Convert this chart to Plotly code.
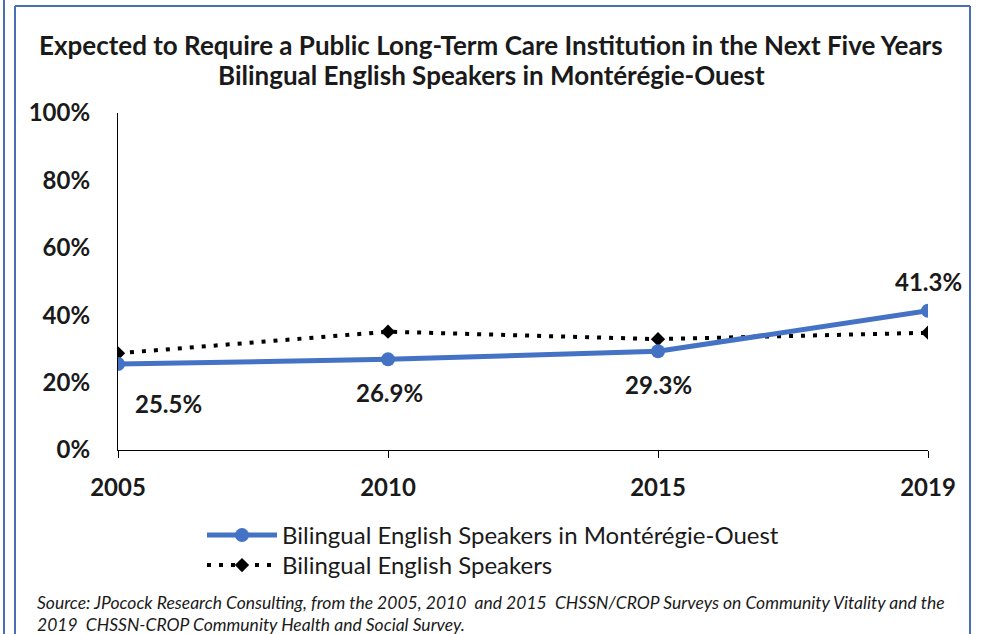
import plotly.graph_objects as go

years = ["2005", "2010", "2015", "2019"]
monteregie = [25.5, 26.9, 29.3, 41.3]
bilingual_all = [28.7, 35.1, 32.9, 34.8]
label_texts = ["25.5%", "26.9%", "29.3%", "41.3%"]
y_ticks = [0, 20, 40, 60, 80, 100]
y_tick_labels = ["0%", "20%", "40%", "60%", "80%", "100%"]

name_a = "Bilingual English Speakers in Montérégie-Ouest"
name_b = "Bilingual English Speakers"

W, H = 981, 634
# plot area in window pixels: x 118..928, y 113..450
L, R, T, B = 118, 981 - 928, 113, 634 - 450
PW, PH = W - L - R, H - T - B

def px_x(p):
    return (p - L) / PW

def px_y(p):
    return (H - B - p) / PH

FONT = "Lato"
BLUE = "#4472C4"
TXT = "#1a1a1a"

fig = go.Figure()
fig.add_trace(go.Scatter(
    x=years, y=bilingual_all, name=name_b, mode="lines+markers",
    line=dict(color="black", width=4, dash="4px,8px"),
    marker=dict(symbol="diamond", size=11, color="black"),
    legend="legend2",
))
fig.add_trace(go.Scatter(
    x=years, y=monteregie, name=name_a, mode="lines+markers",
    line=dict(color=BLUE, width=5),
    marker=dict(symbol="circle", size=14, color=BLUE),
    legend="legend",
))

shifts = [(50, -39), (1, -33), (0, -33), (0, 29)]
for i, (v, t, (dx, dy)) in enumerate(zip(monteregie, label_texts, shifts)):
    fig.add_annotation(x=i, y=v, text="<b>%s</b>" % t, showarrow=False,
                       xshift=dx, yshift=dy, xanchor="center", yanchor="middle",
                       font=dict(family=FONT, size=24, color=TXT))

# Title
fig.add_annotation(xref="paper", yref="paper", x=px_x(491), y=px_y(45),
                   xanchor="center", yanchor="middle",
                   text="<b>Expected to Require a Public Long-Term Care Institution in the Next Five Years</b>",
                   showarrow=False, font=dict(family=FONT, size=26, color=TXT))
fig.add_annotation(xref="paper", yref="paper", x=px_x(491), y=px_y(75),
                   xanchor="center", yanchor="middle",
                   text="<b>Bilingual English Speakers in Montérégie-Ouest</b>",
                   showarrow=False, font=dict(family=FONT, size=26, color=TXT))

# Source
fig.add_annotation(xref="paper", yref="paper", x=px_x(35), y=px_y(602),
                   xanchor="left", yanchor="middle",
                   text="<i>Source: JPocock Research Consulting, from the 2005, 2010  and 2015  CHSSN/CROP Surveys on Community Vitality and the</i>",
                   showarrow=False, font=dict(family=FONT, size=17.5, color=TXT))
fig.add_annotation(xref="paper", yref="paper", x=px_x(35), y=px_y(624),
                   xanchor="left", yanchor="middle",
                   text="<i>2019  CHSSN-CROP Community Health and Social Survey.</i>",
                   showarrow=False, font=dict(family=FONT, size=17.5, color=TXT))

# Borders
BC = "#4A6FB5"
fig.add_shape(type="line", xref="paper", yref="paper", x0=px_x(4), x1=px_x(4),
              y0=px_y(0), y1=px_y(634), line=dict(color=BC, width=2))
fig.add_shape(type="line", xref="paper", yref="paper", x0=px_x(15), x1=px_x(15),
              y0=px_y(6), y1=px_y(634), line=dict(color=BC, width=2))
fig.add_shape(type="line", xref="paper", yref="paper", x0=px_x(15), x1=px_x(970),
              y0=px_y(6), y1=px_y(6), line=dict(color=BC, width=2))
fig.add_shape(type="line", xref="paper", yref="paper", x0=px_x(970), x1=px_x(970),
              y0=px_y(6), y1=px_y(634), line=dict(color=BC, width=2))

leg_common = dict(xanchor="left", yanchor="top", itemwidth=70,
                  font=dict(family=FONT, size=24, color=TXT),
                  bgcolor="rgba(0,0,0,0)")

fig.update_layout(
    width=W, height=H,
    margin=dict(l=L, r=R, t=T, b=B),
    paper_bgcolor="white", plot_bgcolor="white",
    showlegend=True,
    legend=dict(x=px_x(202), y=px_y(513), **leg_common),
    legend2=dict(x=px_x(202), y=px_y(543), **leg_common),
    xaxis=dict(
        type="category", range=[0, 3], showgrid=False, showline=True,
        linecolor="black", linewidth=1.2, ticks="outside", ticklen=7,
        tickcolor="black", tickwidth=1.2, ticklabelstandoff=9,
        tickfont=dict(family=FONT, size=24, color=TXT, weight="bold"),
        zeroline=False,
    ),
    yaxis=dict(
        range=[0, 100], tickvals=y_ticks, ticktext=y_tick_labels,
        showgrid=False, showline=True, linecolor="black", linewidth=1.2,
        ticks="", ticklabelstandoff=22, zeroline=False,
        tickfont=dict(family=FONT, size=24, color=TXT, weight="bold"),
    ),
)

fig.write_html("out.html", config={"displayModeBar": False},
               post_script="document.body.style.margin='0';")
